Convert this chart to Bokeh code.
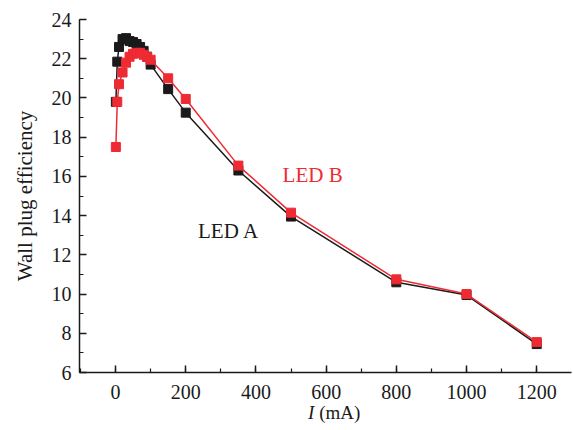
from bokeh.plotting import figure
from bokeh.models import SingleIntervalTicker, FixedTicker, Label, Range1d, LinearAxis
from bokeh.embed import file_html
from bokeh.resources import INLINE

current_a = [1, 5, 10, 20, 30, 40, 50, 60, 70, 80, 90, 100, 150, 200, 350, 500, 800, 1000, 1200]
wpe_a = [19.8, 21.85, 22.6, 23.0, 23.05, 22.9, 22.85, 22.75, 22.6, 22.4, 22.1, 21.7, 20.45, 19.25, 16.3, 13.95, 10.6, 9.95, 7.45]
current_b = [1, 5, 10, 20, 30, 40, 50, 60, 70, 80, 90, 100, 150, 200, 350, 500, 800, 1000, 1200]
wpe_b = [17.5, 19.8, 20.7, 21.3, 21.8, 22.1, 22.25, 22.3, 22.3, 22.2, 22.1, 21.95, 21.0, 19.95, 16.55, 14.15, 10.75, 10.0, 7.55]

BLACK = "#1a1a1a"
RED = "#ee2a33"
FONT = "Liberation Serif"
NB = "\u00a0"

p = figure(width=573, height=430, output_backend="svg", toolbar_location=None,
           x_range=Range1d(-102.6, 1299), y_range=Range1d(6, 24),
           min_border_left=79, min_border_right=2, min_border_top=19, min_border_bottom=58)
p.outline_line_color = None
p.grid.visible = False
p.background_fill_color = "white"

p.line(current_a, wpe_a, color=BLACK, line_width=1.5)
p.scatter(current_a, wpe_a, marker="square", size=9, color=BLACK)
p.line(current_b, wpe_b, color=RED, line_width=1.5)
p.scatter(current_b, wpe_b, marker="square", size=9, color=RED)

p.xaxis.ticker = SingleIntervalTicker(interval=200, num_minor_ticks=2)
p.yaxis.ticker = SingleIntervalTicker(interval=2, num_minor_ticks=2)
for ax in (p.xaxis, p.yaxis):
    ax.axis_line_width = 1.5
    ax.axis_line_color = BLACK
    ax.major_tick_in = 7
    ax.major_tick_out = 0
    ax.minor_tick_in = 4
    ax.minor_tick_out = 0
    ax.major_tick_line_width = 1.5
    ax.minor_tick_line_width = 1.2
    ax.major_tick_line_color = BLACK
    ax.minor_tick_line_color = BLACK
    ax.major_label_text_font = FONT
    ax.major_label_text_font_size = "20px"
    ax.major_label_text_color = BLACK
    ax.axis_label_text_font = FONT
    ax.axis_label_text_color = BLACK
    ax.axis_label_text_font_style = "normal"
p.yaxis.major_label_standoff = 8
p.xaxis.major_label_standoff = 12

p.yaxis.axis_label = "Wall plug efficiency"
p.yaxis.axis_label_text_font_size = "21px"
p.yaxis.axis_label_standoff = 12

p.xaxis.axis_label = "I" + NB * 6
p.xaxis.axis_label_text_font_style = "italic"
p.xaxis.axis_label_text_font_size = "19px"
p.xaxis.axis_label_standoff = 0

ax2 = LinearAxis(ticker=FixedTicker(ticks=[]), axis_line_color=None,
                 major_tick_line_color=None, minor_tick_line_color=None,
                 axis_label=NB * 6 + "(mA)", axis_label_text_font=FONT,
                 axis_label_text_font_size="19px", axis_label_text_font_style="normal",
                 axis_label_text_color=BLACK, axis_label_standoff=-24)
p.add_layout(ax2, "below")

p.add_layout(Label(x=476, y=16.05, text="LED B", text_color=RED, text_font=FONT,
                   text_font_size="21px", text_baseline="middle", text_align="left"))
p.add_layout(Label(x=235, y=13.2, text="LED A", text_color=BLACK, text_font=FONT,
                   text_font_size="21px", text_baseline="middle", text_align="left"))

open("out.html", "w").write(file_html(p, INLINE))
